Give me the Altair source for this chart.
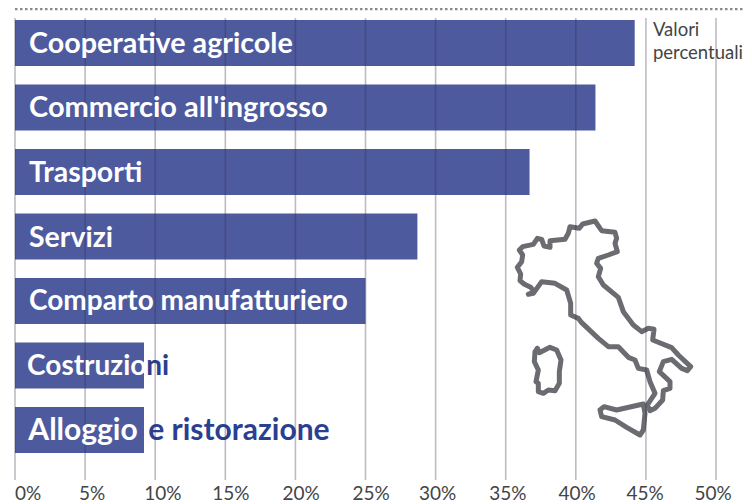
import altair as alt
import pandas as pd

categories = ["Cooperative agricole", "Commercio all'ingrosso", "Trasporti", "Servizi",
              "Comparto manufatturiero", "Costruzioni", "Alloggio e ristorazione"]
values = [44.2, 41.4, 36.7, 28.7, 25.0, 9.2, 9.2]
white_parts = ["Cooperative agricole", "Commercio all'ingrosso", "Trasporti", "Servizi",
               "Comparto manufatturiero", "Costruzio", "Alloggio"]
blue_cats = ["Costruzioni", "Alloggio e ristorazione"]
blue_parts = ["ni", "e ristorazione"]
grid_ticks = [0, 5, 10, 15, 20, 25, 30, 35, 40, 45, 50]
tick_labels = ["0%", "5%", "10%", "15%", "20%", "25%", "30%", "35%", "40%", "45%", "50%"]

main_x = [85,103,92,72,60,62,52,65,68,58,68,100,112,125,132,150,150,195,205,210,238,248,285,305,345,350,345,352,325,295,290,302,295,310,355,370,400,425,445,462,458,515,535,572,562,545,515,490,478,510,510,490,488,465,450,442,465,450,440,415,405,385,355,325,295,245,235,212,212,200,165,125,100,85]
main_y = [283,275,262,252,242,222,202,185,165,150,140,133,115,118,138,142,122,118,100,80,85,72,63,92,97,115,130,155,165,175,190,205,230,255,292,335,375,395,385,388,420,443,465,500,512,505,478,485,515,545,565,572,600,625,632,615,580,545,510,505,480,472,440,440,415,368,355,345,310,270,250,245,280,283]
sard_x = [112,118,150,170,183,178,178,165,145,130,115,115,108,115,103,105,112]
sard_y = [445,458,442,450,480,515,550,572,570,580,575,550,545,510,485,455,445]
sic_x = [300,312,350,430,435,430,420,380,345,305,300]
sic_y = [630,620,630,612,640,690,705,682,660,650,630]

# label placement (separate from the data above)
white_x = [1.0, 1.0, 1.0, 1.0, 1.0, 0.86, 0.95]
white_size = [28.7, 29, 28.5, 28.5, 28, 28, 30]
blue_x = [9.36, 9.5]
blue_size = [28, 30]
tick_label_x = [0.93, 5.5, 10.55, 15.4, 20.4, 25.4, 30.15, 35.15, 40.1, 44.95, 49.8]

W, H = 736, 496
BAR = "#4e5a9e"
XMAX = 51.996
xs = alt.Scale(domain=[-0.5, XMAX], range=[0, W], nice=False, zero=False)
ys = alt.Scale(type="band", domain=categories, range=[12, 445], paddingInner=0.287, paddingOuter=0)
X = lambda f: alt.X(f, type="quantitative", scale=xs, axis=None)
Y = alt.Y("c:N", scale=ys, axis=None, sort=categories)

bars_df = pd.DataFrame({"c": categories, "v": values, "z": [0] * 7})
white_df = pd.DataFrame({"c": categories, "t": white_parts, "x": white_x, "s": white_size})
blue_df = pd.DataFrame({"c": blue_cats, "t": blue_parts, "x": blue_x, "s": blue_size})
grid_df = pd.DataFrame({"x": grid_ticks})
ticks_df = pd.DataFrame({"x": tick_label_x, "t": tick_labels})

rows = []
for name, xx, yy in (("main", main_x, main_y), ("sard", sard_x, sard_y), ("sic", sic_x, sic_y)):
    rows += [{"ring": name, "i": i, "u": a, "v": b} for i, (a, b) in enumerate(zip(xx, yy))]
map_df = pd.DataFrame(rows)

italy = alt.Chart(map_df).mark_line(color="#6b6c71", strokeWidth=5, strokeJoin="round", strokeCap="round").encode(
    x=alt.X("u:Q", scale=alt.Scale(domain=[-1476, 732], range=[0, W], zero=False, nice=False), axis=None),
    y=alt.Y("v:Q", scale=alt.Scale(domain=[-576, 912], range=[0, H], zero=False, nice=False), axis=None),
    detail="ring:N", order="i:Q")

bars = alt.Chart(bars_df).mark_bar(color=BAR, cornerRadius=0).encode(x=X("z"), x2="v:Q", y=Y)
grid = alt.Chart(grid_df).mark_rule(color="#2e2e48", opacity=0.32, strokeWidth=1.6).encode(
    x=X("x"), y=alt.value(10), y2=alt.value(472))
white = alt.Chart(white_df).mark_text(color="white", align="left", baseline="middle", font="Lato",
                                     fontWeight="bold", dy=1).encode(
    x=X("x"), y=Y, text="t:N", size=alt.Size("s:Q", scale=None))
blue = alt.Chart(blue_df).mark_text(color="#2b3f90", align="left", baseline="middle", font="Lato",
                                    fontWeight="bold", dy=1).encode(
    x=X("x"), y=Y, text="t:N", size=alt.Size("s:Q", scale=None))
tick_text = alt.Chart(ticks_df).mark_text(color="#444444", align="center", baseline="middle", font="Lato",
                                          fontSize=19).encode(x=X("x"), y=alt.value(486), text="t:N")
note = alt.Chart(pd.DataFrame({"x": [45.5], "t": [["Valori", "percentuali"]]})).mark_text(
    color="#444444", align="left", baseline="middle", font="Lato", fontSize=18.5, lineHeight=23).encode(
    x=X("x"), y=alt.value(22), text="t")
dots = alt.Chart(pd.DataFrame({"x": [0], "x2": [XMAX]})).mark_rule(
    color="#8a8a8a", strokeWidth=2.5, strokeDash=[2.5, 2.5]).encode(x=X("x"), x2="x2:Q", y=alt.value(1))

chart = alt.layer(italy, bars, blue, grid, white, tick_text, note, dots).resolve_scale(
    x="independent", y="independent"
).properties(width=W, height=H, padding=0, autosize=alt.AutoSizeParams(type="none"),
             background="white").configure_view(stroke=None)
chart.save("out.html", embed_options={"renderer": "svg", "actions": False})
